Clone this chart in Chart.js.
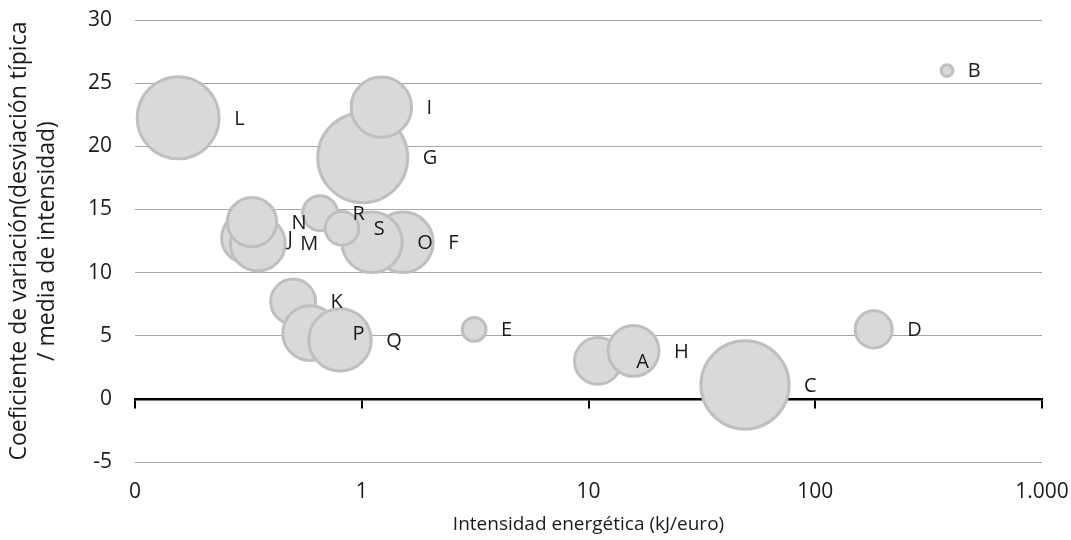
<!DOCTYPE html>
<html>
<head>
<meta charset="utf-8">
<script src="https://cdn.jsdelivr.net/npm/chart.js@4.4.1/dist/chart.umd.min.js"></script>
<style>
  html, body { margin: 0; padding: 0; background: #fff; }
  #wrap { width: 1071px; height: 540px; }
</style>
</head>
<body>
<div id="wrap"><canvas id="bubbleChart"></canvas></div>
<script>
// Sectores (etiquetas) en orden de dibujo
const etiquetas = ["A", "B", "C", "D", "E", "F", "G", "H", "I", "J", "K", "L", "M", "N", "O", "P", "Q", "R", "S"];
// Intensidad energética (kJ/euro), eje logarítmico
const intensidad = [11.0, 381, 49, 181, 3.13, 1.52, 1.01, 15.8, 1.22, 0.312, 0.498, 0.155, 0.348, 0.328, 1.11, 0.592, 0.802, 0.655, 0.818];
// Coeficiente de variación
const coefVariacion = [3.0, 26.0, 1.1, 5.5, 5.5, 12.4, 19.1, 3.8, 23.1, 12.75, 7.7, 22.25, 12.3, 14.0, 12.4, 5.2, 4.67, 14.7, 13.5];
// Tamaño de la burbuja (área relativa)
const tamano = [27, 1.7, 96, 17, 7, 45, 100, 32, 45, 32, 25, 83, 37, 30, 45, 37, 48, 15, 14];

const xTicks = [0.1, 1, 10, 100, 1000];
const xTickLabels = ["0", "1", "10", "100", "1.000"];

const FONT = "'Open Sans', 'Noto Sans', sans-serif";
const TEXT = "#1a1a1a";

const maxTam = Math.max(...tamano);
const puntos = etiquetas.map((lbl, i) => ({
    x: intensidad[i],
    y: coefVariacion[i],
    r: 45 * Math.sqrt(tamano[i] / maxTam)
}));

const decades = scale => {
    scale.ticks = xTicks.map(v => ({ value: v }));
};

// Etiquetas a la derecha de cada burbuja
const bubbleLabels = {
    id: "bubbleLabels",
    afterDatasetsDraw(chart) {
        const ctx = chart.ctx;
        const meta = chart.getDatasetMeta(0);
        ctx.save();
        ctx.font = "20px " + FONT;
        ctx.fillStyle = TEXT;
        ctx.textBaseline = "middle";
        ctx.textAlign = "left";
        meta.data.forEach((el, i) => {
            const r = el.options.radius;
            ctx.fillText(etiquetas[i], el.x + r + 15, el.y + 1);
        });
        ctx.restore();
    }
};

new Chart(document.getElementById("bubbleChart"), {
    type: "bubble",
    data: {
        datasets: [{
            label: "Sectores",
            data: puntos,
            backgroundColor: "#d9d9d9",
            borderColor: "#bfbfbf",
            borderWidth: 3
        }]
    },
    options: {
        responsive: true,
        maintainAspectRatio: false,
        animation: false,
        layout: { autoPadding: false, padding: { top: 20, right: 29, left: 0, bottom: 0 } },
        plugins: {
            legend: { display: false },
            tooltip: { enabled: false }
        },
        scales: {
            x: {
                type: "logarithmic",
                min: 0.1,
                max: 1000,
                position: "bottom",
                afterBuildTicks: decades,
                afterFit: s => { s.height = 78; s.paddingLeft = 0; s.paddingRight = 0; },
                border: { display: false },
                grid: { display: false, drawTicks: false },
                ticks: {
                    padding: 17,
                    autoSkip: false,
                    maxRotation: 0,
                    color: TEXT,
                    font: { family: FONT, size: 21 },
                    callback: (v) => {
                        const k = xTicks.indexOf(v);
                        return k >= 0 ? xTickLabels[k] : "";
                    }
                },
                title: {
                    display: true,
                    text: "Intensidad energética (kJ/euro)",
                    color: TEXT,
                    font: { family: FONT, size: 19 },
                    padding: { top: 4, bottom: 4 }
                }
            },
            x0: {
                type: "logarithmic",
                axis: "x",
                min: 0.1,
                max: 1000,
                position: { y: 0 },
                afterBuildTicks: decades,
                afterFit: s => { s.paddingLeft = 0; s.paddingRight = 0; },
                border: { display: true, color: "#000", width: 2.5 },
                grid: { drawOnChartArea: false, drawTicks: true, tickLength: 8, color: "#000", lineWidth: 2 },
                ticks: { display: false }
            },
            y: {
                min: -5,
                max: 30,
                afterFit: s => { s.width = 135; s.paddingTop = 0; s.paddingBottom = 0; },
                border: { display: false },
                grid: {
                    drawTicks: false,
                    color: ctx => ctx.tick && ctx.tick.value === 0 ? "rgba(0,0,0,0)" : "#a6a6a6",
                    lineWidth: 1
                },
                ticks: {
                    stepSize: 5,
                    padding: 23,
                    color: TEXT,
                    font: { family: FONT, size: 21 }
                },
                title: {
                    display: true,
                    text: ["Coeficiente de variación(desviación típica", "/ media de intensidad)"],
                    color: TEXT,
                    font: { family: FONT, size: 23, lineHeight: 1.2 },
                    padding: { top: 6, bottom: 0 }
                }
            }
        }
    },
    plugins: [bubbleLabels]
});
</script>
</body>
</html>
